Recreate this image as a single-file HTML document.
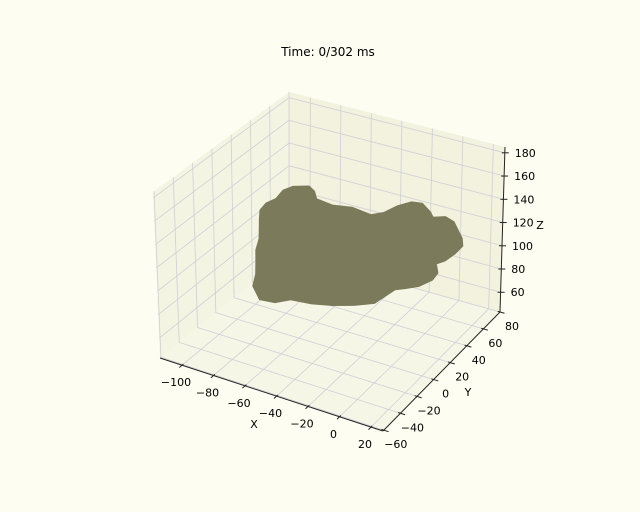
<!DOCTYPE html>
<html><head><meta charset="utf-8"><style>
html,body{margin:0;padding:0;background:#fdfdf2;}
svg{display:block;font-family:"DejaVu Sans","Liberation Sans",sans-serif;}
</style></head><body>
<svg id="chart" width="640" height="512" viewBox="0 0 640 512" xmlns="http://www.w3.org/2000/svg">
<rect x="0" y="0" width="640" height="512" fill="#fdfdf2"/>
<text x="328" y="56" font-size="12" text-anchor="middle" fill="#000">Time: 0/302 ms</text>
<g id="panes"></g><g id="grid"></g><g id="blob"></g><g id="axes"></g>
</svg>
<script>
const xTicks = [-100, -80, -60, -40, -20, 0, 20];
const yTicks = [-60, -40, -20, 0, 20, 40, 60, 80];
const zTicks = [60, 80, 100, 120, 140, 160, 180];
const xRange = [-114, 27.6];
const yRange = [-61, 80];
const zRange = [43, 185];
// outline of scatter cloud (data coordinates)
const blobX = [-107.1,-108.5,-106.5,-108.3,-105.9,-98.2,-92.5,-86.8,-77.7,-66.7,-52.8,-47.5,-44.5,-40.2,-33.9,-24.9,-20.6,-14.4,-7.3,3.3,7.6,7.9,6.5,3.6,9.3,10.2,6.3,0.5,-3.8,-5.8,-6.8,-15.5,-25.6,-37.1,-48.6,-54.4,-63,-70.1,-75.3,-83.5,-88.2,-93.3,-100,-105.2];
const blobY = [38.4,47,54.1,64.8,71,75.8,72.1,65,67.6,70.8,68.5,74.2,84.2,92.9,94.3,88,83.5,87.3,84.6,75.6,68.7,59.5,50.2,44.9,36.6,28.8,20.5,14.6,10.7,-1.1,-7.7,-15.4,-21.5,-26.2,-28.4,-35.6,-37.3,-32.1,-19.9,-5.6,2.2,14.4,25.8,34.5];
const blobZ = [110,110,110,110,110,110,110,110,106,106,106,106,106,105,105,105,105,105,105,101,101,101,101,101,101,101,100,100,100,100,100,100,100,100,100,100,100,105,105,106,106,106,106,106];

const NS = "http://www.w3.org/2000/svg";
const C = {
  "000":[160,358],"100":[383,431],"010":[289,253],"110":[500,312],
  "001":[153,192],"101":[383,263],"011":[289,92],"111":[505,147]
};
function proj(x,y,z){
  const tx=(x-xRange[0])/(xRange[1]-xRange[0]);
  const ty=(y-yRange[0])/(yRange[1]-yRange[0]);
  const tz=(z-zRange[0])/(zRange[1]-zRange[0]);
  let sx=0, sy=0;
  for(const a of [0,1])for(const b of [0,1])for(const c of [0,1]){
    const w=(a?tx:1-tx)*(b?ty:1-ty)*(c?tz:1-tz);
    const p=C[""+a+b+c]; sx+=w*p[0]; sy+=w*p[1];
  }
  return [sx,sy];
}
function mk(tag,attrs,parent){const e=document.createElementNS(NS,tag);for(const k in attrs)e.setAttribute(k,attrs[k]);parent.appendChild(e);return e;}
function line(p,q,stroke,w,parent){return mk("line",{x1:p[0],y1:p[1],x2:q[0],y2:q[1],stroke:stroke,"stroke-width":w},parent);}
function poly(pts){return pts.map(p=>p[0].toFixed(1)+","+p[1].toFixed(1)).join(" ");}
const [x0,x1]=xRange,[y0,y1]=yRange,[z0,z1]=zRange;
const panes=document.getElementById("panes"),grid=document.getElementById("grid"),blob=document.getElementById("blob"),axes=document.getElementById("axes");

let e;
e=mk("polygon",{points:poly([proj(x0,y0,z0),proj(x0,y1,z0),proj(x0,y1,z1),proj(x0,y0,z1)]),fill:"#f4f4e2"},panes);


e=mk("polygon",{points:poly([proj(x0,y1,z0),proj(x1,y1,z0),proj(x1,y1,z1),proj(x0,y1,z1)]),fill:"#f2f2de"},panes);


e=mk("polygon",{points:poly([proj(x0,y0,z0),proj(x1,y0,z0),proj(x1,y1,z0),proj(x0,y1,z0)]),fill:"#f6f6e6"},panes);



const gc="#cfcfd8";
xTicks.forEach(v=>{
  e=line(proj(v,y0,z0),proj(v,y1,z0),gc,0.8,grid);
  
  
  e=line(proj(v,y1,z0),proj(v,y1,z1),gc,0.8,grid);
  
  
});
yTicks.forEach(v=>{
  if(v<y0)return;
  e=line(proj(x0,v,z0),proj(x1,v,z0),gc,0.8,grid);
  
  
  e=line(proj(x0,v,z0),proj(x0,v,z1),gc,0.8,grid);
  
  
});
zTicks.forEach(v=>{
  e=line(proj(x0,y0,v),proj(x0,y1,v),gc,0.8,grid);
  
  
  e=line(proj(x0,y1,v),proj(x1,y1,v),gc,0.8,grid);
  
  
});

const bpts=blobX.map((x,i)=>proj(x,blobY[i],blobZ[i]));
e=mk("polygon",{points:poly(bpts),fill:"#7b7a5a",stroke:"#7b7a5a","stroke-width":2,"stroke-linejoin":"round"},blob);



e=line(proj(x0,y0,z0),proj(x1,y0,z0),"#222",1,axes);


e=line(proj(x1,y0,z0),proj(x1,y1,z0),"#222",1,axes);


e=line(proj(x1,y1,z0),proj(x1,y1,z1),"#222",1,axes);



function label(txt,p,anchor,name){
  const t=mk("text",{x:p[0].toFixed(1),y:p[1].toFixed(1),"font-size":11,"text-anchor":anchor,fill:"#000"},axes);
  t.textContent=txt;
  
  
  return t;
}
function fmt(v){return v<0?"\u2212"+Math.abs(v):""+v;}
xTicks.forEach(v=>{
  const p=proj(v,y0,z0), q=proj(v,y0-3,z0);
  e=line([p[0]-(q[0]-p[0])*0.5,p[1]-(q[1]-p[1])*0.5],q,"#222",1,axes);
  
  
  label(fmt(v),[p[0]-6,p[1]+21],"middle","x-tick-label");
});
yTicks.forEach(v=>{
  const p=proj(x1,v,z0), q=proj(x1+3,v,z0);
  e=line([p[0]-(q[0]-p[0])*0.5,p[1]-(q[1]-p[1])*0.5],q,"#222",1,axes);
  
  
  label(fmt(v),[p[0]+12,p[1]+18],"middle","y-tick-label");
});
zTicks.forEach(v=>{
  const p=proj(x1,y1,v);
  e=line([p[0]-3,p[1]],[p[0]+4,p[1]],"#222",1,axes);
  
  
  label(fmt(v),[p[0]+10,p[1]+4],"start","z-tick-label");
});
label("X",[254,428],"middle","x-axis-title");
label("Y",[468,396],"middle","y-axis-title");
label("Z",[540,229],"middle","z-axis-title");
</script>
</body></html>
